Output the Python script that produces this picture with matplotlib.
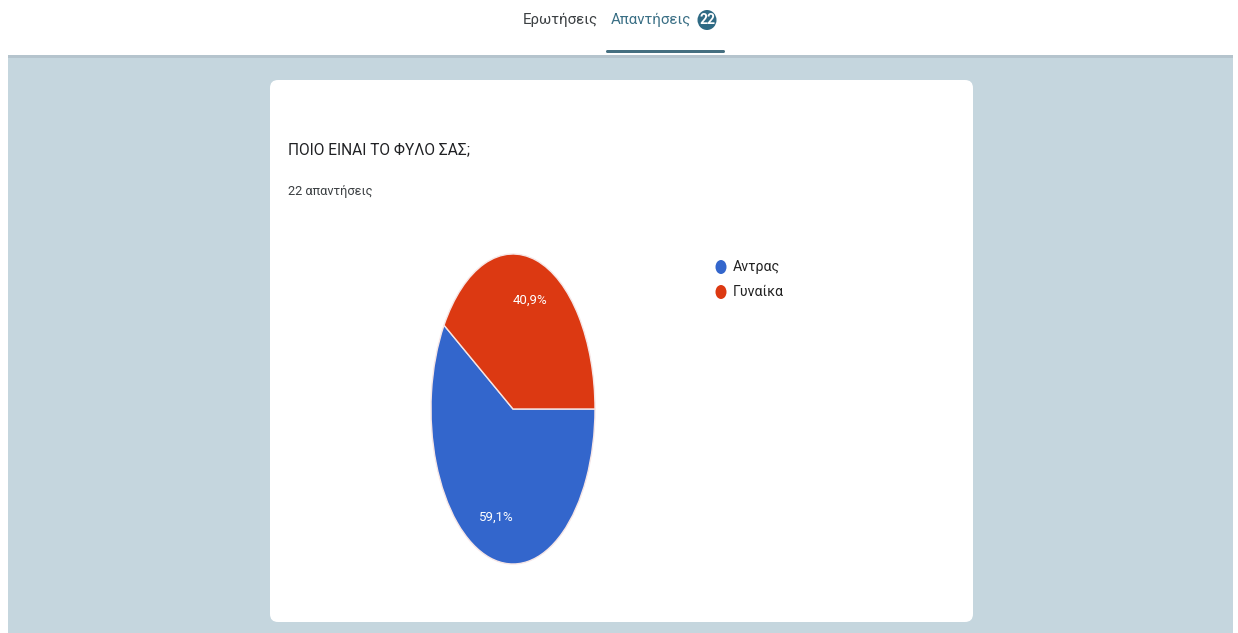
import matplotlib
matplotlib.use("Agg")
import matplotlib.pyplot as plt
from matplotlib.patches import FancyBboxPatch, Rectangle, Ellipse

# --------------------------------------------------------------------- #
# Data
# --------------------------------------------------------------------- #
labels = ["Αντρας", "Γυναίκα"]
counts = [13, 9]
colors = ["#3366cc", "#dc3912"]
title = "ΠΟΙΟ ΕΙΝΑΙ ΤΟ ΦΥΛΟ ΣΑΣ;"
n_answers = sum(counts)
subtitle = f"{n_answers} απαντήσεις"
tabs = ["Ερωτήσεις", "Απαντήσεις"]

plt.rcParams["font.family"] = ["Liberation Sans Narrow", "Roboto", "DejaVu Sans"]

W, H = 1238, 633
fig = plt.figure(figsize=(W / 100, H / 100), dpi=100)
fig.patch.set_facecolor("white")

# pixel-coordinate background layer (y downwards)
bg = fig.add_axes([0, 0, 1, 1])
bg.set_xlim(0, W)
bg.set_ylim(H, 0)
bg.axis("off")

bg.add_patch(Rectangle((8, 55), 1225, 578, facecolor="#c5d6de", edgecolor="none"))
bg.add_patch(Rectangle((8, 55), 1225, 3, facecolor="#b5c4cd", edgecolor="none"))
bg.add_patch(FancyBboxPatch((278, 88), 687, 526,
                            boxstyle="round,pad=8,rounding_size=8",
                            facecolor="white", edgecolor="none"))

# tabs
bg.text(560, 20, tabs[0], ha="center", va="center", fontsize=10.8, color="#3c4043")
bg.text(651, 20, tabs[1], ha="center", va="center", fontsize=10.8, color="#3a6f85")
bg.add_patch(Ellipse((707, 20), 19, 20, facecolor="#2f6a84", edgecolor="none"))
bg.text(707, 20.5, str(n_answers), ha="center", va="center", fontsize=10,
        color="white", fontweight="bold")
bg.add_patch(FancyBboxPatch((606, 50), 119, 3, boxstyle="round,pad=0,rounding_size=1.5",
                            facecolor="#456f80", edgecolor="none"))

# card text
bg.text(288, 150, title, ha="left", va="center", fontsize=11.2, color="#202124")
bg.text(288, 192, subtitle, ha="left", va="center", fontsize=9.2, color="#3c4043")

# legend
for i, (lab, col) in enumerate(zip(labels, colors)):
    y = 267 + 25 * i
    bg.add_patch(Ellipse((721, y), 11, 14, facecolor=col, edgecolor="none"))
    bg.text(733, y, lab, ha="left", va="center", fontsize=10.2, color="#222222")

# pie (stretched vertically, like the reference)
cx, cy, rx, ry = 513, 409, 82, 155
ax = fig.add_axes([(cx - rx) / W, 1 - (cy + ry) / H, 2 * rx / W, 2 * ry / H])


def pct(p):
    return f"{p:.1f}".replace(".", ",") + "%"


wedges, texts, autotexts = ax.pie(
    counts, colors=colors, startangle=360 * counts[1] / n_answers,
    counterclock=True, autopct=pct, pctdistance=0.73,
    wedgeprops=dict(edgecolor="#f6e6e6", linewidth=1.0),
    textprops=dict(color="white", fontsize=9.5),
)
ax.set_aspect("auto")
ax.set_xlim(-1, 1)
ax.set_ylim(-1, 1)
ax.axis("off")

fig.savefig("out.png", dpi=100, facecolor=fig.get_facecolor())
